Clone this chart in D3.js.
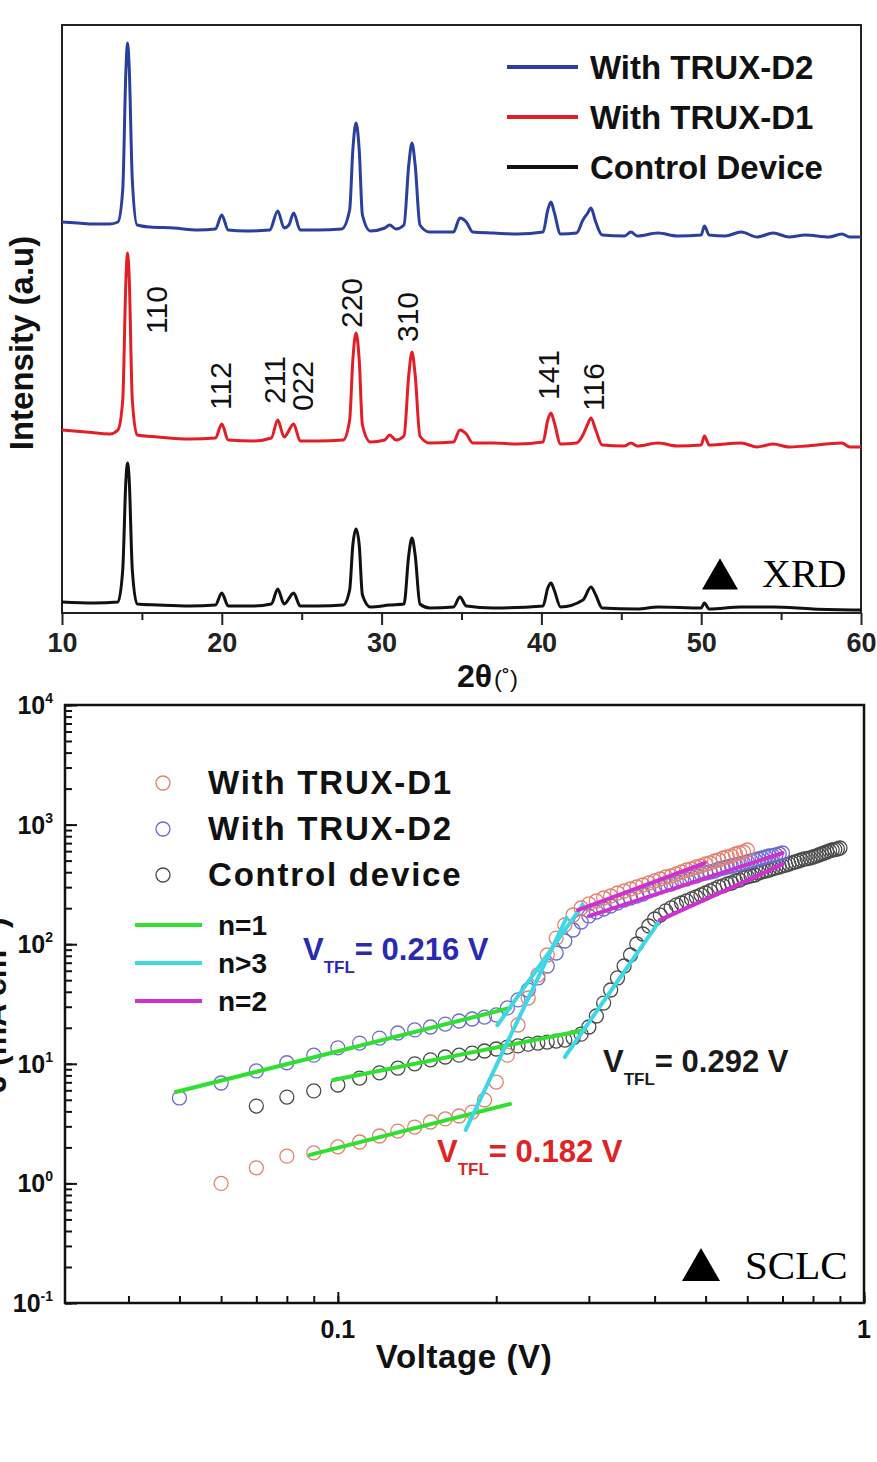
<!DOCTYPE html>
<html lang="en">
<head>
<meta charset="UTF-8">
<title>XRD and SCLC</title>
<script src="https://d3js.org/d3.v7.min.js"></script>
<style>
  body { margin: 0; background: #fff; }
  svg { display: block; font-family: "Liberation Sans", Arial, sans-serif; }
  .b { font-weight: bold; }
  .serif { font-family: "Liberation Serif", "Times New Roman", serif; }
</style>
</head>
<body>
<svg id="chart" width="877" height="1462"></svg>
<script>
// ---- XRD patterns, [2theta, intensity (a.u.)] ----
const xrdD2 = [[10.0,391],[11.0,390],[12.0,389],[13.0,389],[13.5,391],[13.8,423],[14.0,543],[14.1,570],[14.2,548],[14.4,433],[14.7,388],[15.5,386],[17.0,385],[18.5,383],[19.6,384],[20.0,398],[20.4,383],[21.5,382],[23.0,383],[23.5,402],[23.9,385],[24.2,388],[24.5,400],[24.9,383],[26.0,383],[27.5,384],[28.0,403],[28.2,463],[28.4,490],[28.6,463],[28.8,398],[29.3,382],[30.2,385],[30.5,388],[30.9,384],[31.4,388],[31.7,448],[31.9,470],[32.1,448],[32.4,388],[33.0,381],[34.5,381],[34.9,395],[35.3,391],[35.7,381],[37.0,380],[38.5,379],[40.1,381],[40.4,403],[40.6,411],[40.8,401],[41.2,379],[42.2,380],[42.6,393],[42.9,400],[43.1,405],[43.4,391],[43.8,378],[45.2,377],[45.6,381],[46.0,377],[47.3,380],[48.5,377],[50.0,378],[50.2,387],[50.5,378],[51.5,377],[52.5,381],[53.5,376],[54.5,380],[55.5,376],[56.5,378],[58.0,376],[58.8,379],[59.3,376],[60.0,376]];
const xrdD1 = [[10.0,183],[11.5,181],[13.0,179],[13.5,183],[13.8,213],[14.0,333],[14.1,360],[14.2,338],[14.4,213],[14.7,178],[16.0,176],[18.0,174],[19.6,175],[20.0,189],[20.4,173],[22.0,172],[23.1,175],[23.5,193],[23.9,176],[24.5,189],[24.9,172],[26.0,172],[27.6,173],[28.0,193],[28.2,253],[28.4,280],[28.6,253],[28.8,188],[29.3,171],[30.2,173],[30.5,178],[30.9,173],[31.4,177],[31.7,238],[31.9,261],[32.1,238],[32.4,177],[33.0,170],[34.5,171],[34.9,183],[35.3,179],[35.7,170],[37.0,170],[38.5,169],[40.1,171],[40.4,193],[40.6,200],[40.8,191],[41.2,169],[42.2,170],[42.6,178],[42.9,189],[43.1,195],[43.4,183],[43.8,168],[45.2,167],[45.6,170],[46.0,167],[47.3,170],[48.5,167],[50.0,168],[50.2,177],[50.5,168],[52.5,170],[53.5,166],[54.5,169],[55.5,166],[56.5,167],[58.8,170],[59.3,166],[60.0,166]];
const xrdControl = [[10.0,11],[12.0,10],[13.5,11],[13.8,43],[14.0,133],[14.1,150],[14.2,135],[14.4,43],[14.7,9],[16.0,8],[18.0,7],[19.6,8],[20.0,20],[20.4,7],[22.0,7],[23.1,9],[23.5,24],[23.9,9],[24.5,20],[24.9,7],[26.0,7],[27.6,8],[28.0,23],[28.2,68],[28.4,84],[28.6,68],[28.8,18],[29.3,6],[30.5,8],[31.4,9],[31.7,58],[31.9,75],[32.1,58],[32.4,9],[33.0,5],[34.5,6],[34.9,16],[35.3,7],[37.0,5],[40.1,7],[40.4,25],[40.6,30],[40.8,23],[41.2,6],[42.6,13],[43.1,26],[43.4,18],[43.8,5],[46.0,4],[47.3,6],[50.0,5],[50.2,10],[50.5,4],[52.5,6],[54.5,6],[57.0,4],[60.0,3]];
const xrdNames = ["With TRUX-D2", "With TRUX-D1", "Control Device"];
const xrdTicks = [10, 20, 30, 40, 50, 60];
const xrdMinorTicks = [15, 25, 35, 45, 55];
// hkl label, 2theta of label, intensity level of label centre
const hklLabels = [["110",16.6,303],["112",20.55,227],["211",23.95,233],["022",25.7,227],["220",28.75,310],["310",32.25,296],["141",41.1,238],["116",43.9,226]];

// ---- SCLC, current density J (mA cm-2) vs voltage ----
const d1V = [0.06,0.07,0.08,0.09,0.10,0.11,0.12,0.13,0.14,0.15,0.16,0.17,0.18,0.19,0.20,0.21,0.22,0.23,0.24,0.25,0.26,0.27,0.28,0.29,0.30,0.31,0.32,0.33,0.34,0.35,0.36,0.37,0.38,0.39,0.40,0.41,0.42,0.43,0.44,0.45,0.46,0.47,0.48,0.49,0.50,0.51,0.52,0.53,0.54,0.55,0.56,0.57,0.58,0.59,0.60];
const d1J = [1.00,1.35,1.69,1.80,2.02,2.22,2.49,2.74,2.96,3.26,3.46,3.66,3.95,4.98,7.04,11.8,21.1,35.5,55.3,81.2,112.6,144.7,175.4,200.7,217,229.7,243.4,253,268,278.5,289.4,300.8,312.6,324.9,337.6,351,364.7,371.8,386.4,401.6,417.3,425.5,442.2,450.7,468.4,477.5,496.2,505.8,525.6,535.9,546.3,567.8,578.6,590,613];
const d2V = [0.05,0.06,0.07,0.08,0.09,0.10,0.11,0.12,0.13,0.14,0.15,0.16,0.17,0.18,0.19,0.20,0.21,0.22,0.23,0.24,0.25,0.26,0.27,0.28,0.29,0.30,0.31,0.32,0.33,0.34,0.35,0.36,0.37,0.38,0.39,0.40,0.41,0.42,0.43,0.44,0.45,0.46,0.47,0.48,0.49,0.50,0.51,0.52,0.53,0.54,0.55,0.56,0.57,0.58,0.59,0.60,0.61,0.62,0.63,0.64,0.65,0.66,0.67,0.68,0.69,0.70];
const d2J = [5.18,6.91,8.71,10.2,11.8,13.6,14.9,16.4,18.1,19.2,20.3,21.5,22.8,23.7,24.6,25.6,29.3,34.2,41.4,52.2,65.7,84.4,106.4,131.4,153.3,172.2,185.9,197,208.6,221.1,234.2,243.4,252.9,262.8,278.5,289.4,300.8,312.6,318.7,331.1,344.2,351,364.7,371.8,386.4,393.9,401.6,409.3,425.5,433.6,442.2,450.7,459.3,468.4,477.5,486.7,496.2,505.8,515.6,525.6,535.9,546.3,551,556.8,567.8,578.6];
const ctrlV = [0.07,0.08,0.09,0.10,0.11,0.12,0.13,0.14,0.15,0.16,0.17,0.18,0.19,0.20,0.21,0.22,0.23,0.24,0.25,0.26,0.27,0.28,0.29,0.30,0.31,0.32,0.33,0.34,0.35,0.36,0.37,0.38,0.39,0.40,0.41,0.42,0.43,0.44,0.45,0.46,0.47,0.48,0.49,0.50,0.51,0.52,0.53,0.54,0.55,0.56,0.57,0.58,0.59,0.60,0.61,0.62,0.63,0.64,0.65,0.66,0.67,0.68,0.69,0.70,0.71,0.72,0.73,0.74,0.75,0.76,0.77,0.78,0.79,0.80,0.81,0.82,0.83,0.84,0.85,0.86,0.87,0.88,0.89,0.90];
const ctrlJ = [4.43,5.27,5.93,6.65,7.6,8.4,9.2,10.0,10.8,11.4,11.8,12.3,12.8,13.3,13.8,14.1,14.6,14.9,15.2,15.5,15.8,16.5,17.7,20.3,25.1,32.2,41.4,52.2,65.7,81.2,100.4,121.7,142,162.4,175,190,201,213,221,230,239,248,258,268,279,289,301,307,319,325,338,344,358,365,372,379,394,402,409,417,426,434,442,451,459,468,478,487,496,506,516,520,526,536,546,557,568,579,590,602,613,618,625,637];
const sclcNames = ["With TRUX-D1", "With TRUX-D2", "Control device"];
// fitted segments [V0, J0, V1, J1] for D1, D2, control
const fitN1 = [[0.0885,1.73,0.2125,4.61],[0.0492,5.81,0.2125,29.3],[0.098,7.33,0.295,19.2]];
const fitN3 = [[0.175,2.8,0.272,166],[0.201,21,0.292,213],[0.270,11.4,0.406,150]];
const fitN2 = [[0.286,193,0.498,477],[0.30,172,0.70,579],[0.409,159,0.70,465]];
const fitNames = ["n=1", "n>3", "n=2"];
const vtflValues = ["0.182", "0.216", "0.292"];
const sclcMajorX = [0.1, 1];

const svg = d3.select("#chart");

// ===================== XRD =====================
const xr = d3.scaleLinear().domain([10, 60]).range([62, 861]);
const yr = d3.scaleLinear().domain([0, 588]).range([613, 25]);
const xrdColors = ["#2b3f9e", "#e41e26", "#111"];

const xrdG = svg.append("g");

xrdG.append("g").attr("transform", "translate(0,613)")
  .call(d3.axisBottom(xr).tickValues(xrdMinorTicks).tickSize(7).tickFormat("").tickSizeOuter(0))
  .call(g => g.select(".domain").remove())
  .call(g => g.selectAll("line").attr("stroke", "#222").attr("stroke-width", 2));
xrdG.append("g").attr("transform", "translate(0,613)")
  .call(d3.axisBottom(xr).tickValues(xrdTicks).tickSize(12).tickPadding(8).tickSizeOuter(0))
  .call(g => g.select(".domain").remove())
  .call(g => g.selectAll("line").attr("stroke", "#222").attr("stroke-width", 2))
  .call(g => g.selectAll("text").attr("font-size", 27).attr("font-weight", "bold")
    .attr("font-family", "Liberation Sans, Arial, sans-serif").attr("fill", "#222"));

xrdG.append("rect").attr("x", 62).attr("y", 25).attr("width", 799).attr("height", 588)
  .attr("fill", "none").attr("stroke", "#222").attr("stroke-width", 2);

const xrdLine = d3.line().x(d => xr(d[0])).y(d => yr(d[1])).curve(d3.curveMonotoneX);
[xrdD2, xrdD1, xrdControl].forEach((s, i) => {
  xrdG.append("path").datum(s).attr("d", xrdLine)
    .attr("fill", "none").attr("stroke", xrdColors[i]).attr("stroke-width", 3)
    .attr("stroke-linejoin", "round");
});

// hkl labels
xrdG.selectAll(".hkl").data(hklLabels).enter().append("text")
  .attr("class", "hkl")
  .attr("transform", d => `translate(${xr(d[1])},${yr(d[2])}) rotate(-90)`)
  .attr("text-anchor", "middle")
  .attr("font-size", 30).attr("fill", "#111")
  .text(d => d[0]);

// legend
xrdNames.forEach((n, i) => {
  const ly = 67 + i * 50;
  xrdG.append("line").attr("x1", 507).attr("x2", 578).attr("y1", ly).attr("y2", ly)
    .attr("stroke", xrdColors[i]).attr("stroke-width", 4);
  xrdG.append("text").attr("class", "b").attr("x", 590).attr("y", ly + 12)
    .attr("font-size", 33).attr("fill", "#111").text(n);
});

// axis titles
xrdG.append("text").attr("class", "b")
  .attr("transform", "translate(33,343) rotate(-90)")
  .attr("text-anchor", "middle").attr("font-size", 33).attr("fill", "#111")
  .text("Intensity (a.u)");
const tx = xrdG.append("text").attr("x", 457).attr("y", 687).attr("fill", "#111");
tx.append("tspan").attr("class", "b").attr("font-size", 32).text("2θ");
tx.append("tspan").attr("font-size", 24).attr("dx", 2).text("(˚)");

// XRD marker
xrdG.append("path").attr("d", d3.symbol(d3.symbolTriangle, 561)())
  .attr("transform", "translate(720,579)").attr("fill", "#000");
xrdG.append("text").attr("class", "serif").attr("x", 762).attr("y", 587)
  .attr("font-size", 40).attr("fill", "#000").text("XRD");

// ===================== SCLC =====================
const xs = d3.scaleLog().domain([0.0303, 1]).range([65, 864]);
const ys = d3.scaleLog().domain([0.1, 1e4]).range([1303, 705]);
const sclcG = svg.append("g");

const styleTicks = g => g.call(s => s.select(".domain").remove())
  .call(s => s.selectAll("line").attr("stroke", "#111").attr("stroke-width", 2));

sclcG.append("g").attr("transform", "translate(65,0)")
  .call(d3.axisRight(ys).tickValues(ys.ticks()).tickSize(7).tickFormat("").tickSizeOuter(0))
  .call(styleTicks);
sclcG.append("g").attr("transform", "translate(65,0)")
  .call(d3.axisRight(ys).tickValues([0.1, 1, 10, 100, 1000, 10000]).tickSize(12).tickFormat("").tickSizeOuter(0))
  .call(styleTicks);
sclcG.append("g").attr("transform", "translate(0,1303)")
  .call(d3.axisTop(xs).tickValues(xs.ticks().filter(v => v > 0.031)).tickSize(7).tickFormat("").tickSizeOuter(0))
  .call(styleTicks);
sclcG.append("g").attr("transform", "translate(0,1303)")
  .call(d3.axisTop(xs).tickValues(sclcMajorX).tickSize(11).tickFormat("").tickSizeOuter(0))
  .call(styleTicks);

sclcG.append("rect").attr("x", 65).attr("y", 705).attr("width", 799).attr("height", 598)
  .attr("fill", "none").attr("stroke", "#111").attr("stroke-width", 2.5);

// y tick labels 10^n
[-1, 0, 1, 2, 3, 4].forEach(e => {
  const t = sclcG.append("text").attr("class", "b").attr("x", 53).attr("y", ys(Math.pow(10, e)) + 9)
    .attr("text-anchor", "end").attr("fill", "#111");
  t.append("tspan").attr("font-size", 25).text("10");
  t.append("tspan").attr("font-size", 14).attr("dy", -11).text(e < 0 ? "-1" : String(e));
});
// x tick labels
sclcMajorX.forEach(v => {
  sclcG.append("text").attr("class", "b").attr("x", xs(v)).attr("y", 1338)
    .attr("text-anchor", "middle").attr("font-size", 25).attr("fill", "#111").text(String(v));
});

sclcG.append("text").attr("class", "b").attr("x", 464).attr("y", 1368)
  .attr("text-anchor", "middle").attr("font-size", 33).attr("letter-spacing", 0.6)
  .attr("fill", "#111").text("Voltage (V)");
sclcG.append("text").attr("class", "b")
  .attr("transform", "translate(6,1005) rotate(-90)")
  .attr("text-anchor", "middle").attr("font-size", 32).attr("fill", "#111")
  .text("J (mA cm⁻²)");

// data circles
const sclcColors = ["#e5806e", "#6c6cd0", "#4a4a4a"];
const series = [[d1V, d1J], [d2V, d2J], [ctrlV, ctrlJ]];
[2, 1, 0].forEach(i => {
  const pts = series[i][0].map((v, k) => [v, series[i][1][k]]);
  sclcG.append("g").selectAll("circle").data(pts).enter().append("circle")
    .attr("cx", d => xs(d[0])).attr("cy", d => ys(d[1])).attr("r", 7)
    .attr("fill", "none").attr("stroke", sclcColors[i]).attr("stroke-width", 1.3);
});

// fit lines
const fitColors = ["#2fe02f", "#3dd8e6", "#d030d2"];
[fitN1, fitN3, fitN2].forEach((set, i) => {
  set.forEach(f => {
    sclcG.append("line").attr("x1", xs(f[0])).attr("y1", ys(f[1]))
      .attr("x2", xs(f[2])).attr("y2", ys(f[3]))
      .attr("stroke", fitColors[i]).attr("stroke-width", 4).attr("stroke-linecap", "round");
  });
});

// legends
sclcNames.forEach((n, i) => {
  const ly = 783 + i * 46;
  sclcG.append("circle").attr("cx", 163).attr("cy", ly).attr("r", 7)
    .attr("fill", "none").attr("stroke", sclcColors[i]).attr("stroke-width", 1.3);
  sclcG.append("text").attr("class", "b").attr("x", 208).attr("y", ly + 11)
    .attr("font-size", 33).attr("letter-spacing", 1.8).attr("fill", "#111").text(n);
});
fitNames.forEach((n, i) => {
  const ly = 925 + i * 38;
  sclcG.append("line").attr("x1", 135).attr("x2", 202).attr("y1", ly).attr("y2", ly)
    .attr("stroke", fitColors[i]).attr("stroke-width", 4);
  sclcG.append("text").attr("class", "b").attr("x", 218).attr("y", ly + 10)
    .attr("font-size", 28).attr("fill", "#111").text(n);
});

// V_TFL annotations
const vtflPos = [[437, 1162, "#e02424"], [303, 960, "#2a2ab0"], [603, 1072, "#1a1a1a"]];
vtflValues.forEach((v, i) => {
  const p = vtflPos[i];
  const t = sclcG.append("text").attr("class", "b").attr("x", p[0]).attr("y", p[1]).attr("fill", p[2]);
  t.append("tspan").attr("font-size", 31).text("V");
  t.append("tspan").attr("font-size", 17).attr("dy", 13).text("TFL");
  t.append("tspan").attr("font-size", 31).attr("dy", -13).text("= " + v + " V");
});

// SCLC marker
sclcG.append("path").attr("d", d3.symbol(d3.symbolTriangle, 625)())
  .attr("transform", "translate(701,1270)").attr("fill", "#000");
sclcG.append("text").attr("class", "serif").attr("x", 745).attr("y", 1279)
  .attr("font-size", 41).attr("fill", "#000").text("SCLC");
</script>
</body>
</html>
